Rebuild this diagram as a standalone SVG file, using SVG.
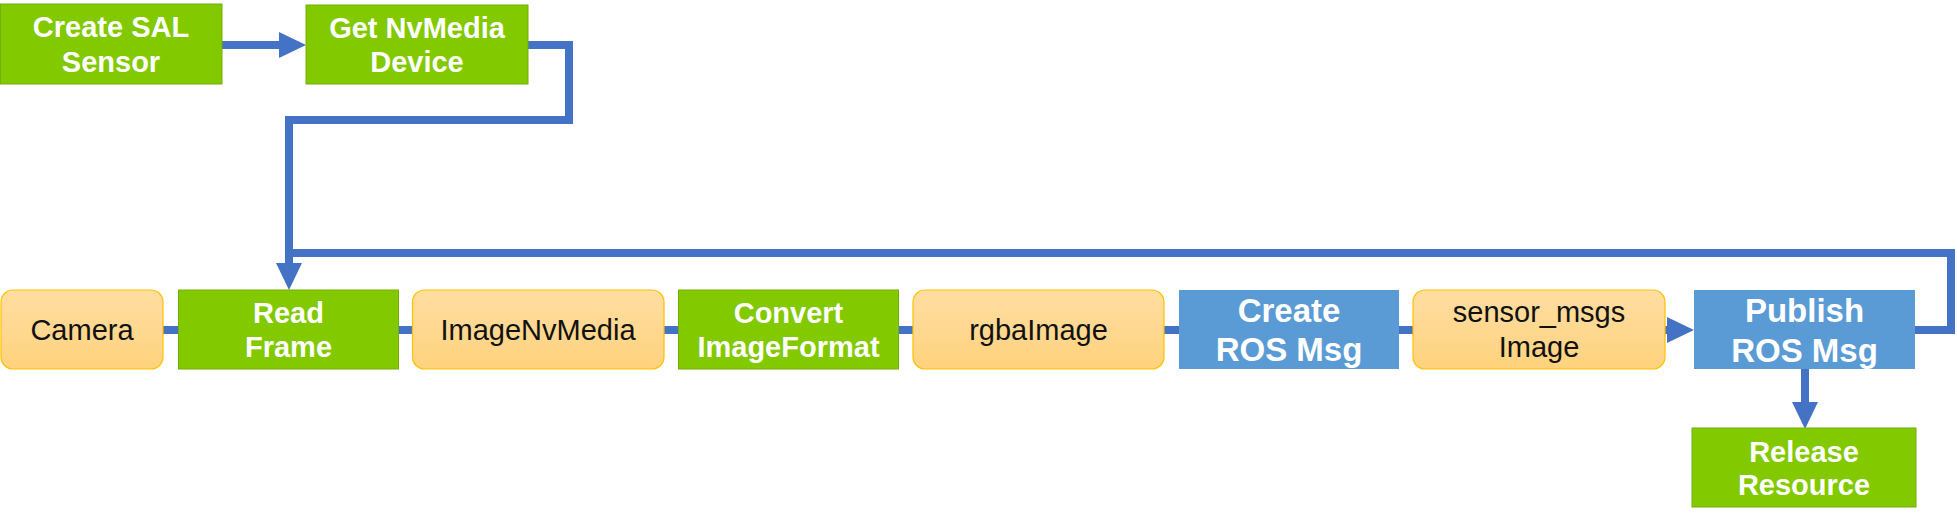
<svg xmlns="http://www.w3.org/2000/svg" width="1957" height="521" viewBox="0 0 1957 521">
<style>
.g{fill:#82C900;stroke:#73B000;stroke-width:1}
.b{fill:#5B9BD5}
.o{fill:url(#og);stroke:#FFC000;stroke-width:1.2}
.wt{font-family:"Liberation Sans",Arial,sans-serif;font-weight:bold;fill:#fff;text-anchor:middle;font-size:29px}
.wb{font-family:"Liberation Sans",Arial,sans-serif;font-weight:bold;fill:#fff;text-anchor:middle;font-size:33px}
.dt{font-family:"Liberation Sans",Arial,sans-serif;fill:#111;text-anchor:middle;font-size:29px}
.c{fill:none;stroke:#4472C4;stroke-width:8;stroke-linejoin:miter}
</style>
<defs>
<linearGradient id="og" x1="0" y1="0" x2="0" y2="1">
<stop offset="0" stop-color="#FFDEA2"/>
<stop offset="0.5" stop-color="#FFD890"/>
<stop offset="1" stop-color="#FFD27C"/>
</linearGradient>
<marker id="ah" markerUnits="userSpaceOnUse" markerWidth="28" markerHeight="28" refX="0" refY="13" orient="auto">
<path d="M0,0 L27,13 L0,26 z" fill="#4472C4"/>
</marker>
</defs>
<g id="connectors">
<path class="c" d="M222,45 H279" marker-end="url(#ah)"/>
<path class="c" d="M528,45 H569 V120 H289 V263" marker-end="url(#ah)"/>
<path class="c" d="M1915,330 H1951 V253 H289 V263"/>
<path class="c" d="M163,330 H179"/>
<path class="c" d="M398,330 H413"/>
<path class="c" d="M664,330 H679"/>
<path class="c" d="M898,330 H913"/>
<path class="c" d="M1164,330 H1179"/>
<path class="c" d="M1399,330 H1413"/>
<path class="c" d="M1665,330 H1667" marker-end="url(#ah)"/>
<path class="c" d="M1805,369 V402" marker-end="url(#ah)"/>
</g>
<g id="create-sal-sensor">
<rect class="g" x="0.5" y="4" width="221.5" height="80"/>
<text class="wt" x="111" y="37">Create SAL</text>
<text class="wt" x="111" y="72">Sensor</text>
</g>
<g id="get-nvmedia-device">
<rect class="g" x="306" y="5" width="222" height="79"/>
<text class="wt" x="417" y="37.5">Get NvMedia</text>
<text class="wt" x="417" y="72">Device</text>
</g>
<g id="camera">
<rect class="o" x="1" y="290" width="162" height="79" rx="12"/>
<text class="dt" x="82" y="340">Camera</text>
</g>
<g id="read-frame">
<rect class="g" x="178.5" y="290" width="220" height="79"/>
<text class="wt" x="288.5" y="323">Read</text>
<text class="wt" x="288.5" y="357">Frame</text>
</g>
<g id="imagenvmedia">
<rect class="o" x="412.5" y="290" width="251.5" height="79" rx="12"/>
<text class="dt" x="538" y="340">ImageNvMedia</text>
</g>
<g id="convert-imageformat">
<rect class="g" x="678.5" y="290" width="220" height="79"/>
<text class="wt" x="788.5" y="323">Convert</text>
<text class="wt" x="788.5" y="357">ImageFormat</text>
</g>
<g id="rgbaimage">
<rect class="o" x="913" y="290" width="251" height="79" rx="12"/>
<text class="dt" x="1038.5" y="340">rgbaImage</text>
</g>
<g id="create-ros-msg">
<rect class="b" x="1179" y="290" width="220" height="79"/>
<text class="wb" x="1289" y="322">Create</text>
<text class="wb" x="1289" y="361">ROS Msg</text>
</g>
<g id="sensor-msgs-image">
<rect class="o" x="1413" y="290" width="252" height="79" rx="12"/>
<text class="dt" x="1539" y="322">sensor_msgs</text>
<text class="dt" x="1539" y="357">Image</text>
</g>
<g id="publish-ros-msg">
<rect class="b" x="1694" y="290" width="221" height="79"/>
<text class="wb" x="1804.5" y="322">Publish</text>
<text class="wb" x="1804.5" y="362">ROS Msg</text>
</g>
<g id="release-resource">
<rect class="g" x="1692" y="428" width="224" height="79"/>
<text class="wt" x="1804" y="462">Release</text>
<text class="wt" x="1804" y="495">Resource</text>
</g>
</svg>
